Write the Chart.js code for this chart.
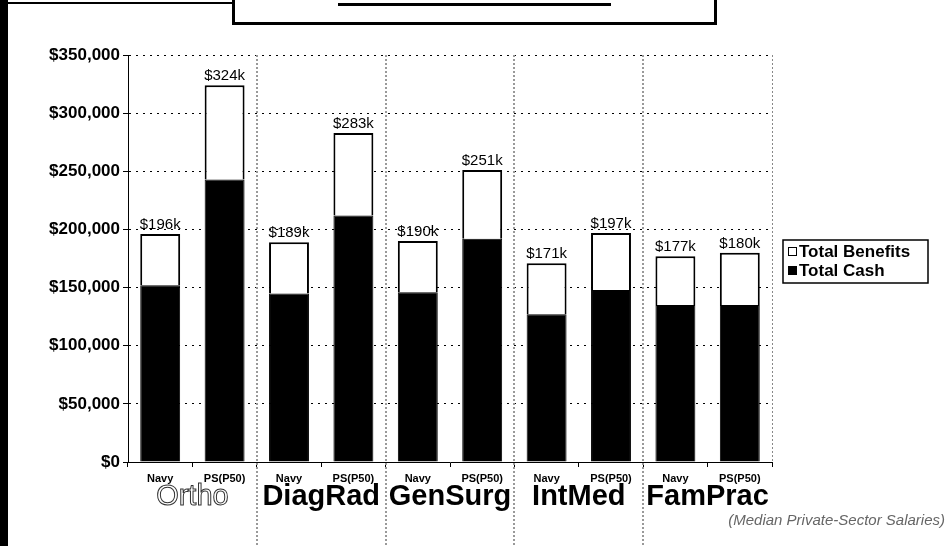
<!DOCTYPE html>
<html lang="en">
<head>
    <meta charset="UTF-8">
    <title>Navy vs Private Sector Compensation</title>
    <script src="https://cdn.jsdelivr.net/npm/chart.js"></script>
    <style>
        body {
            margin: 0;
            background: #fff;
        }
        .page {
            position: relative;
            width: 948px;
            height: 546px;
            overflow: hidden;
            font-family: "Liberation Sans", Arial, sans-serif;
        }
        .left-bar {
            position: absolute;
            left: 0; top: 0;
            width: 8px; height: 546px;
            background: #000;
        }
        .top-line {
            position: absolute;
            left: 8px; top: 2px;
            width: 226px; height: 2px;
            background: #000;
        }
        .title-box {
            position: absolute;
            left: 232px; top: 0;
            width: 479px; height: 22px;
            border: 3px solid #000;
            border-top: none;
            background: #fff;
            z-index: 2;
            overflow: hidden;
        }
        .title-box span {
            position: absolute;
            left: 0; right: 0;
            top: -17px;
            margin: 0 auto;
            width: max-content;
            font-size: 30px;
            font-weight: bold;
            line-height: 18px;
            height: 20px;
            overflow: hidden;
            border-bottom: 3px solid #000;
        }
        .title-box span i {
            position: relative;
            top: -6px;
            font-style: normal;
        }
        .note {
            position: absolute;
            right: 3px; top: 511px;
            font-size: 15px;
            font-style: italic;
            color: #666;
        }
        canvas {
            position: absolute;
            left: 0; top: 0;
        }
    </style>
</head>
<body>
<div class="page">
    <canvas id="payChart" width="948" height="546"></canvas>
    <div class="left-bar"></div>
    <div class="top-line"></div>
    <div class="title-box"><span><i>12 Years of Service</i></span></div>
    <div class="note">(Median Private-Sector Salaries)</div>
</div>

<script>
    // values, in dollars
    const categories = ['Navy', 'PS(P50)', 'Navy', 'PS(P50)', 'Navy', 'PS(P50)', 'Navy', 'PS(P50)', 'Navy', 'PS(P50)'];
    const specialties = ['Ortho', 'DiagRad', 'GenSurg', 'IntMed', 'FamPrac'];
    const totalCash = [152000, 243000, 145000, 212000, 146000, 192000, 127000, 148000, 135000, 135000];
    const totalBenefits = [44000, 81000, 44000, 71000, 44000, 59000, 44000, 49000, 42000, 45000];
    const yMax = 350000;
    const yStep = 50000;

    const FONT = '"Liberation Sans", Arial, sans-serif';

    // specialty names, group separators, plot border, legend and totals above bars
    const extrasPlugin = {
        id: 'extras',
        afterDatasetsDraw(chart) {
            const ctx = chart.ctx;
            const x = chart.scales.x;
            const area = chart.chartArea;
            const top = chart.getDatasetMeta(1);

            ctx.save();
            // totals
            ctx.font = '15px ' + FONT;
            ctx.fillStyle = '#000';
            ctx.textAlign = 'center';
            ctx.textBaseline = 'alphabetic';
            top.data.forEach((bar, i) => {
                const total = totalCash[i] + totalBenefits[i];
                ctx.fillText('$' + Math.round(total / 1000) + 'k', bar.x, bar.y - 5);
            });

            // right border of plot
            ctx.strokeStyle = '#888';
            ctx.lineWidth = 1;
            ctx.setLineDash([2, 2]);
            ctx.beginPath();
            ctx.moveTo(area.right + 0.5, area.top);
            ctx.lineTo(area.right + 0.5, area.bottom);
            ctx.stroke();

            // separators between specialties
            ctx.strokeStyle = '#999';
            ctx.lineWidth = 2;
            ctx.setLineDash([2, 2]);
            for (let g = 1; g < specialties.length; g++) {
                const sx = Math.round((x.getPixelForValue(2 * g - 1) + x.getPixelForValue(2 * g)) / 2);
                ctx.beginPath();
                ctx.moveTo(sx, area.top);
                ctx.lineTo(sx, chart.height);
                ctx.stroke();
            }
            ctx.setLineDash([]);

            // specialty names
            ctx.textAlign = 'center';
            specialties.forEach((name, g) => {
                const cx = (x.getPixelForValue(2 * g) + x.getPixelForValue(2 * g + 1)) / 2;
                if (g === 0) {
                    ctx.font = '29px ' + FONT;
                    ctx.fillStyle = '#fff';
                    ctx.fillText(name, cx, 505);
                    ctx.strokeStyle = '#333';
                    ctx.lineWidth = 1;
                    ctx.strokeText(name, cx, 505);
                } else {
                    ctx.font = 'bold 29px ' + FONT;
                    ctx.fillStyle = '#000';
                    ctx.fillText(name, cx, 505);
                }
            });

            // legend box
            const lx = 783, ly = 240, lw = 145, lh = 43;
            ctx.strokeStyle = '#000';
            ctx.lineWidth = 1.5;
            ctx.strokeRect(lx, ly, lw, lh);
            const items = [chart.data.datasets[1], chart.data.datasets[0]];
            ctx.font = 'bold 17px ' + FONT;
            ctx.textAlign = 'left';
            ctx.textBaseline = 'middle';
            items.forEach((ds, k) => {
                const cy = ly + 12 + k * 19;
                ctx.fillStyle = ds.backgroundColor;
                ctx.fillRect(lx + 5, cy - 5, 9, 9);
                ctx.strokeStyle = '#000';
                ctx.lineWidth = 1;
                ctx.strokeRect(lx + 5.5, cy - 4.5, 8, 8);
                ctx.fillStyle = '#000';
                ctx.fillText(ds.label, lx + 16, cy);
            });
            ctx.restore();
        }
    };

    new Chart(document.getElementById('payChart'), {
        type: 'bar',
        data: {
            labels: categories,
            datasets: [
                {
                    label: 'Total Cash',
                    data: totalCash,
                    backgroundColor: '#000',
                    borderColor: '#000',
                    borderWidth: 1
                },
                {
                    label: 'Total Benefits',
                    data: totalBenefits,
                    backgroundColor: '#fff',
                    borderColor: '#000',
                    borderWidth: 2
                }
            ]
        },
        options: {
            responsive: false,
            animation: false,
            devicePixelRatio: 1,
            barPercentage: 0.62,
            categoryPercentage: 1,
            layout: {
                padding: { left: 0, right: 176, top: 55, bottom: 0 }
            },
            plugins: {
                legend: { display: false },
                tooltip: { enabled: false }
            },
            scales: {
                x: {
                    stacked: true,
                    afterFit: s => { s.height = 84; },
                    grid: {
                        offset: true,
                        drawOnChartArea: false,
                        drawTicks: true,
                        tickLength: 5,
                        color: '#000'
                    },
                    border: { display: true, color: '#000', width: 1 },
                    ticks: {
                        color: '#000',
                        padding: 5,
                        maxRotation: 0,
                        font: { family: FONT, size: 11, weight: 'bold' }
                    }
                },
                y: {
                    stacked: true,
                    min: 0,
                    max: yMax,
                    afterFit: s => { s.width = 128; },
                    grid: {
                        color: '#000',
                        lineWidth: 1,
                        tickLength: 5,
                        tickColor: '#000',
                        tickBorderDash: []
                    },
                    border: { display: true, color: '#000', width: 1, dash: [2, 5] },
                    ticks: {
                        stepSize: yStep,
                        color: '#000',
                        padding: 3,
                        font: { family: FONT, size: 17, weight: 'bold' },
                        callback: v => '$' + v.toLocaleString('en-US')
                    }
                }
            }
        },
        plugins: [extrasPlugin]
    });
</script>
</body>
</html>
